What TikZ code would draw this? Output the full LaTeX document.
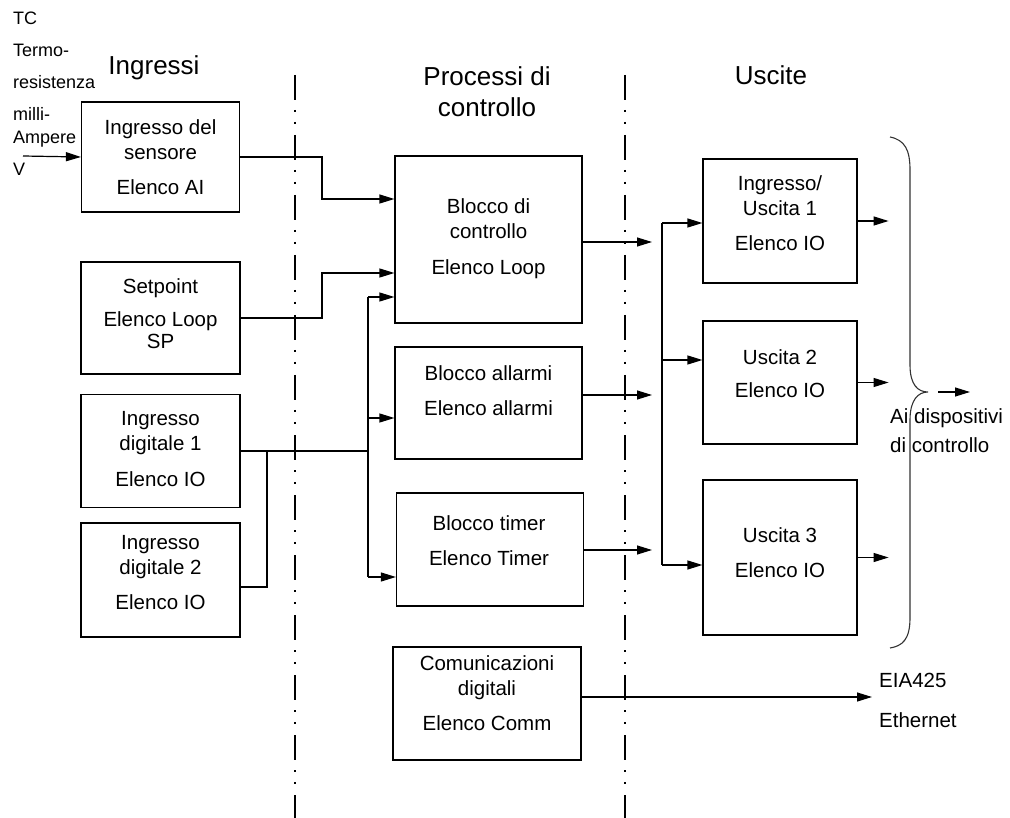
\documentclass[tikz,border=0pt]{standalone}
\usepackage{fontspec}
\setmainfont{Liberation Sans}
\usetikzlibrary{arrows.meta}

\begin{document}
\begin{tikzpicture}[x=1pt, y=-1pt, >={Triangle[length=15pt,width=9pt]},
  every node/.style={font=\fontsize{20.5}{25}\selectfont},
  blk/.style={rectangle,draw,line width=1.2pt,inner sep=0pt},
  txt/.style={align=center,inner sep=0pt},
  sep/.style={line width=2.6pt,dash pattern=on 25pt off 10pt on 2pt off 10pt on 2pt off 11pt},
  wire/.style={line width=1.2pt}]

\useasboundingbox (0,0) rectangle (1010,818);

% Headers
\node[font=\fontsize{26}{31}\selectfont] (hin) at (154,68) {Ingressi};
\node[font=\fontsize{26}{31}\selectfont,align=center] (hproc) at (487,92) {Processi di\\controllo};
\node[font=\fontsize{26}{31}\selectfont] (hout) at (771,75) {Uscite};

% Separators
\draw[sep] (295,75) -- (295,818);
\draw[sep] (625,75) -- (625,818);

% Sensor types
\node[anchor=north west,align=left,inner sep=0pt,font=\fontsize{18}{32}\selectfont] (srclbl) at (13,11.5)
  {TC\\Termo-\\resistenza\\milli-\\[-9pt]Ampere\\V};
\coordinate (src) at (23,156);

% Inputs
\node[blk,minimum width=158pt,minimum height=110pt] at (160.5,157) (sensor) {};
\node[txt] at (160.5,157) (sensortxt) {Ingresso del\\sensore\\[10pt]Elenco AI};
\node[blk,minimum width=159pt,minimum height=112pt] at (160.5,318) (setpt) {};
\node[txt] at (160.5,314) (setpttxt) {Setpoint\\[8pt]Elenco Loop\\[-3pt]SP};
\node[blk,minimum width=159pt,minimum height=113pt] at (160.5,451) (dinA) {};
\node[txt] at (160.5,449) (dinAtxt) {Ingresso\\digitale 1\\[11pt]Elenco IO};
\node[blk,minimum width=159pt,minimum height=114pt] at (160.5,580) (dinB) {};
\node[txt] at (160.5,573) (dinBtxt) {Ingresso\\digitale 2\\[10pt]Elenco IO};

% Control processes
\node[blk,minimum width=187pt,minimum height=167pt] at (488.5,239.5) (ctrl) {};
\node[txt] at (488.5,239) (ctrltxt) {Blocco di\\controllo\\[11pt]Elenco Loop};
\node[blk,minimum width=187pt,minimum height=112pt] at (488.5,403) (alarm) {};
\node[txt] at (488.5,391) (alarmtxt) {Blocco allarmi\\[10pt]Elenco allarmi};
\node[blk,minimum width=187pt,minimum height=113pt] at (490,549.5) (timer) {};
\node[txt] at (489,541) (timertxt) {Blocco timer\\[10pt]Elenco Timer};
\node[blk,minimum width=188pt,minimum height=113pt] at (487,703.5) (comm) {};
\node[txt] at (487,693) (commtxt) {Comunicazioni\\digitali\\[10pt]Elenco Comm};

% Outputs
\node[blk,minimum width=154pt,minimum height=124pt] at (780,221) (io1) {};
\node[txt] at (780,213) (io1txt) {Ingresso/\\Uscita 1\\[10pt]Elenco IO};
\node[blk,minimum width=154pt,minimum height=123pt] at (780,382.5) (out2) {};
\node[txt] at (780,374) (out2txt) {Uscita 2\\[8pt]Elenco IO};
\node[blk,minimum width=154pt,minimum height=155pt] at (780,557.5) (out3) {};
\node[txt] at (780,553) (out3txt) {Uscita 3\\[10pt]Elenco IO};

% Right side labels
\node[anchor=west,align=left,inner sep=0pt,font=\fontsize{20.5}{29}\selectfont] at (890,431) (devlbl) {Ai dispositivi\\di controllo};
\node[anchor=west,align=left,inner sep=0pt,font=\fontsize{20.5}{40}\selectfont] at (879,700) (netlbl) {EIA425\\Ethernet};

% Junctions
\coordinate (s1) at (322,199);
\coordinate (s2) at (322,273);
\coordinate (dtop) at (368,297);
\coordinate (dmid) at (368,418);
\coordinate (dbot) at (368,577);
\coordinate (d2b) at (267,587);
\coordinate (c1) at (652,242);
\coordinate (c2) at (652,395);
\coordinate (c3) at (652,550);
\coordinate (bus1) at (662,223);
\coordinate (bus2) at (662,360);
\coordinate (bus3) at (662,565);
\coordinate (e1) at (872,697);
\coordinate (devtip) at (938,392);
\coordinate (devend) at (970,392);

% Connections
\draw[->,wire] (src) -- (sensor.west);
\draw[->,wire] (sensor.east) -| (s1) -- (s1 -| ctrl.west);
\draw[->,wire] (setpt.east) -| (s2) -- (s2 -| ctrl.west);
\draw[wire] (dinA.east) -- (dinA.east -| dtop);
\draw[wire] (d2b -| dinB.east) -- (d2b) -- (d2b |- dinA.east);
\draw[wire] (dtop) -- (dbot);
\draw[->,wire] (dtop) -- (dtop -| ctrl.west);
\draw[->,wire] (dmid) -- (dmid -| alarm.west);
\draw[->,wire] (dbot) -- (dbot -| timer.west);

\draw[->,wire] (ctrl.east |- c1) -- (c1);
\draw[->,wire] (alarm.east |- c2) -- (c2);
\draw[->,wire] (timer.east |- c3) -- (c3);

\draw[wire] (bus1) -- (bus3);
\foreach \n/\b in {bus1/io1,bus2/out2,bus3/out3} {
  \draw[->,wire] (\n) -- (\n -| \b.west);
}
\foreach \b in {io1,out2,out3} {
  \draw[->,wire] (\b.east) -- ([xshift=31pt]\b.east);
}
\draw[->,wire] (comm.east |- e1) -- (e1);

% Brace
\draw[line width=1.1pt,black!80] (890,137) .. controls (905,140) and (910,150) .. (910,170)
  -- (910,365) .. controls (910,385) and (918,392) .. (928,392)
  .. controls (918,392) and (910,400) .. (910,420)
  -- (910,618) .. controls (910,640) and (902,646) .. (890,648);
\draw[->,wire] (devtip) -- (devend);

\end{tikzpicture}
\end{document}
